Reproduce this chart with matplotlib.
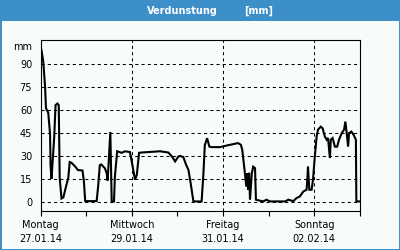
import matplotlib
matplotlib.use('AGG')
import matplotlib.pyplot as plt
from matplotlib.patches import Rectangle
import matplotlib.transforms as mtransforms

# days since Monday 27.01.14 00:00
days = [0.02, 0.06, 0.10, 0.12, 0.17, 0.21, 0.22, 0.24, 0.26, 0.30, 0.33, 0.37, 0.40,
        0.42, 0.46, 0.50, 0.55, 0.61, 0.64, 0.68, 0.75, 0.82, 0.92, 0.95, 0.98, 1.23,
        1.26, 1.30, 1.33, 1.41, 1.45, 1.47, 1.49, 1.53, 1.56, 1.61, 1.63, 1.68, 1.78,
        1.85, 1.96, 2.02, 2.07, 2.11, 2.16, 2.22, 2.62, 2.80, 2.88, 2.95, 3.02, 3.06,
        3.13, 3.19, 3.24, 3.29, 3.35, 3.53, 3.57, 3.60, 3.65, 3.70, 3.75, 3.93, 4.15,
        4.33, 4.39, 4.42, 4.47, 4.51, 4.53, 4.55, 4.57, 4.59, 4.63, 4.66, 4.70, 4.72,
        4.88, 4.95, 5.03, 5.36, 5.43, 5.54, 5.61, 5.68, 5.76, 5.83, 5.85, 5.86, 5.89,
        5.94, 5.97, 6.01, 6.05, 6.08, 6.14, 6.18, 6.23, 6.27, 6.30, 6.34, 6.36, 6.40,
        6.45, 6.50, 6.54, 6.60, 6.65, 6.68, 6.70, 6.74, 6.76, 6.81, 6.86, 6.91, 6.92,
        7.00]
mm = [99, 91.5, 75, 61, 58, 44, 24, 15, 23.6, 42, 63, 64, 63,
      16, 2.3, 3, 9, 16, 26, 25.5, 23.4, 20.8, 20.5, 13.6, 0.6, 0.6,
      9.3, 24, 24.4, 22, 18.8, 14, 24, 45.5, 0.4, 0.4, 16.6, 33, 32,
      33, 32.5, 23, 14.5, 17.7, 32, 32.2, 33, 32.2, 29.6, 26.4, 29.6, 30,
      29.2, 24.2, 21, 12.3, 0.4, 0.4, 18.8, 37, 41.5, 36, 35.7, 35.7, 37.2,
      38.3, 37.2, 34, 21, 10, 18.8, 8, 19, 1.5, 18.8, 23, 22, 1.5,
      0.4, 1.5, 0.4, 0.4, 1.5, 0.6, 2.6, 3.6, 6.9, 8, 16.6, 23, 8,
      8, 14.5, 29.6, 42.6, 47, 49, 48, 42.6, 40.5, 41.6, 28.6, 40.5, 41.6,
      36, 36, 40.5, 44.8, 47, 52.3, 47, 36, 44.8, 45.8, 43.7, 40.5, 0.4,
      0.4]

tick_days = [0, 2, 4, 6]
tick_labels = ['Montag\n27.01.14', 'Mittwoch\n29.01.14', 'Freitag\n31.01.14', 'Sonntag\n02.02.14']
y_ticks = [0, 15, 30, 45, 60, 75, 90]

blue = '#3C8FC8'
bg = '#F8FCF8'

fig = plt.figure(figsize=(4, 2.5), dpi=100, facecolor=bg)

# blue title bar and frame
fig.patches.append(Rectangle((0, 1 - 20.5 / 250), 1, 20.5 / 250, transform=fig.transFigure,
                             facecolor=blue, edgecolor='none', zorder=0))
fig.patches.append(Rectangle((0.5 / 400, 0.5 / 250), 399 / 400, 249 / 250, transform=fig.transFigure,
                             facecolor='none', edgecolor=blue, linewidth=1.4, zorder=0))
fig.text(0.455, 1 - 10.5 / 250, 'Verdunstung', color='white', fontsize=7, fontweight='bold',
         ha='center', va='center')
fig.text(0.646, 1 - 10.5 / 250, '[mm]', color='white', fontsize=7, fontweight='bold',
         ha='center', va='center')

ax = fig.add_axes([40.5 / 400, 1 - 210.5 / 250, 319.5 / 400, 170 / 250])
ax.set_facecolor(bg)
ax.plot(days, mm, color='black', linewidth=1.5, solid_joinstyle='miter')

ax.set_xlim(0, 7)
ax.set_ylim(-5.5, 105)

ax.set_yticks(y_ticks)
ax.set_yticklabels([str(v) for v in y_ticks], fontsize=7)
ax.tick_params(axis='y', length=0, pad=6)

ax.set_xticks(tick_days)
ax.set_xticklabels(tick_labels, fontsize=7, linespacing=1.5)
ax.set_xticks([1, 3, 5, 7], minor=True)
ax.tick_params(axis='x', which='both', direction='out', length=3.5, width=0.8, pad=3)

ax.grid(True, axis='y', linestyle=(0, (3, 3)), color='black', linewidth=0.75)
ax.grid(True, axis='x', which='major', linestyle=(0, (3, 3)), color='black', linewidth=0.75)
for sp in ax.spines.values():
    sp.set_linewidth(0.8)

trans = mtransforms.blended_transform_factory(ax.transAxes, ax.transData)
ax.text(-0.025, 101, 'mm', transform=trans, fontsize=7, ha='right', va='center')

fig.savefig('out.png', dpi=100, facecolor=bg)
